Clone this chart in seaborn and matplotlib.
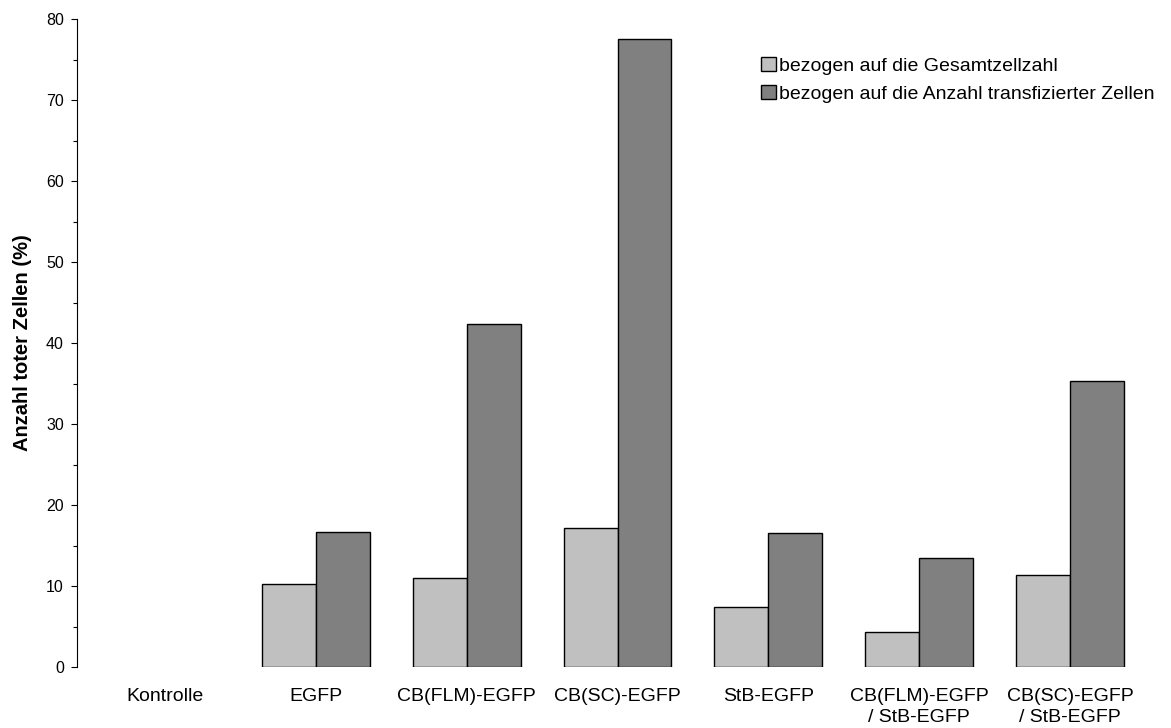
import matplotlib
matplotlib.use("Agg")
import matplotlib.pyplot as plt
from matplotlib.patches import Patch
from matplotlib.ticker import MultipleLocator
import pandas as pd
import seaborn as sns

# Constructs and share of dead cells (%)
konstrukte = [
    "Kontrolle",
    "EGFP",
    "CB(FLM)-EGFP",
    "CB(SC)-EGFP",
    "StB-EGFP",
    "CB(FLM)-EGFP\n/ StB-EGFP",
    "CB(SC)-EGFP\n/ StB-EGFP",
]
gesamt = [0.0, 10.2, 11.0, 17.2, 7.4, 4.3, 11.3]
transfiziert = [0.0, 16.7, 42.3, 77.5, 16.5, 13.4, 35.3]

serien = [
    "bezogen auf die Gesamtzellzahl",
    "bezogen auf die Anzahl transfizierter Zellen",
]
farben = ["#C0C0C0", "#808080"]

df = pd.DataFrame({
    "Konstrukt": konstrukte * 2,
    "Wert": gesamt + transfiziert,
    "Bezug": [serien[0]] * len(konstrukte) + [serien[1]] * len(konstrukte),
})

sns.set_style("ticks")
plt.rcParams["font.family"] = ["Liberation Sans", "DejaVu Sans"]
plt.rcParams["text.color"] = "black"
plt.rcParams["axes.labelcolor"] = "black"
plt.rcParams["xtick.color"] = "black"
plt.rcParams["ytick.color"] = "black"

W, H = 1171, 728
fig = plt.figure(figsize=(W / 100, H / 100), dpi=100)
ax = fig.add_axes([77 / W, 1 - 667 / H, (1135 - 77) / W, (667 - 19) / H])

sns.barplot(
    data=df, x="Konstrukt", y="Wert", hue="Bezug",
    order=konstrukte, hue_order=serien, palette=farben,
    saturation=1, edgecolor="black", linewidth=1.0,
    width=0.715, legend=False, ax=ax,
)

# zero-height bars (control) leave no outline
for p in ax.patches:
    if p.get_height() == 0:
        p.set_linewidth(0)

ax.set_xlim(-0.583, 6.43)
ax.set_ylim(0, 80)
ax.set_yticks(range(0, 81, 10))
ax.yaxis.set_minor_locator(MultipleLocator(5))

for s in ["top", "right", "bottom"]:
    ax.spines[s].set_visible(False)
ax.spines["left"].set_color("black")
ax.spines["left"].set_linewidth(0.8)

ax.tick_params(axis="y", which="major", length=4, width=0.8, pad=5.5,
               labelsize=11.5, color="black", labelcolor="black")
ax.tick_params(axis="y", which="minor", length=3, width=0.8, color="black")
ax.tick_params(axis="x", length=0, pad=15, labelsize=14, labelcolor="black")
for t in ax.get_xticklabels():
    t.set_linespacing(1.35)

ax.set_xlabel("")
ax.set_ylabel("Anzahl toter Zellen (%)", fontsize=14.5, fontweight="bold",
              color="black")
ax.yaxis.set_label_coords(-0.043, 0.5)

handles = [Patch(facecolor=c, edgecolor="black", linewidth=1.0) for c in farben]
fig.legend(
    handles, serien, loc="upper left",
    bbox_to_anchor=(761 / W, 1 - 57 / H),
    frameon=False, fontsize=14.0, handlelength=0.78, handleheight=0.7,
    handletextpad=0.15, labelspacing=0.55, borderpad=0, borderaxespad=0,
)

fig.savefig("out.png", dpi=100)
